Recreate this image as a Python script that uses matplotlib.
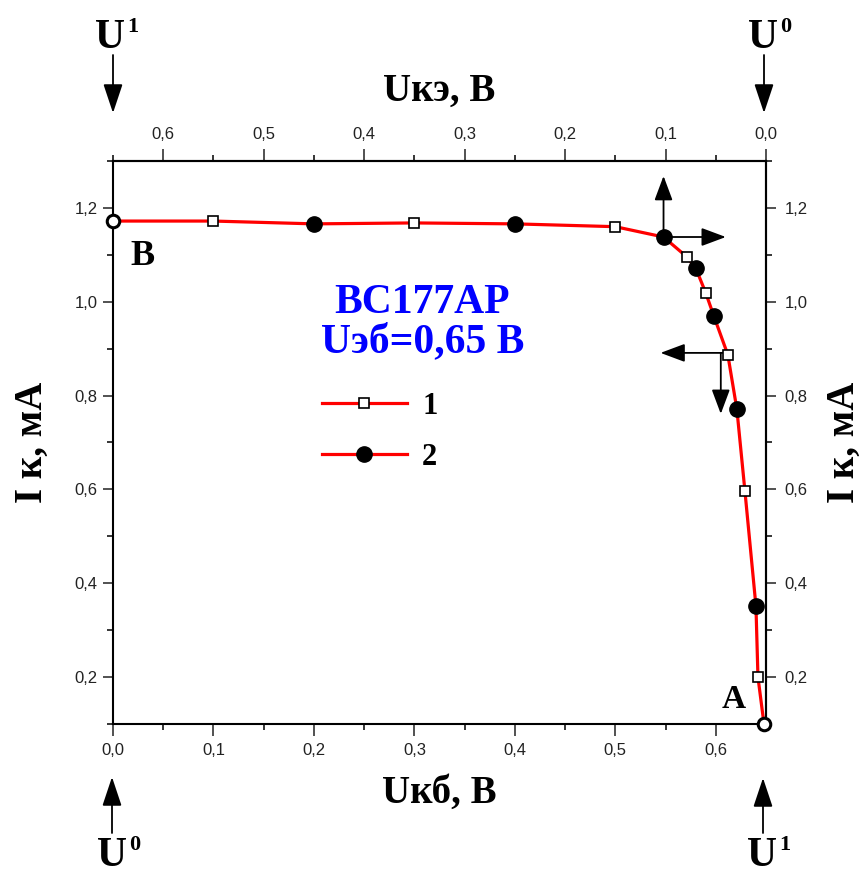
import matplotlib
matplotlib.use("Agg")
import matplotlib.pyplot as plt
from matplotlib.ticker import FixedLocator, MultipleLocator, FuncFormatter
from matplotlib.lines import Line2D

# ---------------- data ----------------
u_eb = 0.65                      # Uэб, B
# end points (open circles) B and A
u_kb_end = [0.0, 0.648]
i_k_end = [1.172, 0.100]
# series 1 (open squares)
u_kb_1 = [0.1, 0.3, 0.5, 0.571, 0.590, 0.612, 0.629, 0.642]
i_k_1 = [1.172, 1.168, 1.160, 1.096, 1.019, 0.887, 0.597, 0.200]
# series 2 (filled circles)
u_kb_2 = [0.2, 0.4, 0.548, 0.580, 0.598, 0.621, 0.640]
i_k_2 = [1.166, 1.166, 1.138, 1.072, 0.970, 0.771, 0.351]

x_ticks = [0.0, 0.1, 0.2, 0.3, 0.4, 0.5, 0.6]
y_ticks = [0.2, 0.4, 0.6, 0.8, 1.0, 1.2]
series_labels = ["1", "2"]

# ---------------- figure ----------------
W, H = 867, 880
plt.rcParams["font.family"] = ["Liberation Sans", "DejaVu Sans"]
SERIF = ["Liberation Serif", "DejaVu Serif"]

fig = plt.figure(figsize=(W / 100, H / 100), dpi=100)
fig.patch.set_facecolor("white")
L, R, T, B = 113, 766, 161, 724
ax = fig.add_axes([L / W, 1 - B / H, (R - L) / W, (B - T) / H])


def px(x, y):
    return (x / W, 1 - y / H)


# one red curve through all measured points (both series share it)
pts = sorted(zip(u_kb_end + u_kb_1 + u_kb_2, i_k_end + i_k_1 + i_k_2))
xc = [p[0] for p in pts]
yc = [p[1] for p in pts]
ax.plot(xc, yc, color="red", lw=2.3, zorder=2, solid_joinstyle="round")
ax.plot(u_kb_1, i_k_1, ls="none", marker="s", ms=7, mfc="white",
        mec="black", mew=1.2, zorder=4)
ax.plot(u_kb_2, i_k_2, ls="none", marker="o", ms=11, mfc="black",
        mec="black", zorder=4)
ax.plot(u_kb_end, i_k_end, ls="none", marker="o", ms=9, mfc="white",
        mec="black", mew=2.2, zorder=5, clip_on=False)

ax.set_xlim(0, u_eb)
ax.set_ylim(0.1, 1.3)

fmt = FuncFormatter(lambda v, p: f"{v:.1f}".replace(".", ","))
ax.xaxis.set_major_locator(FixedLocator(x_ticks))
ax.xaxis.set_minor_locator(MultipleLocator(0.05))
ax.yaxis.set_major_locator(FixedLocator(y_ticks))
ax.yaxis.set_minor_locator(MultipleLocator(0.1))
ax.xaxis.set_major_formatter(fmt)
ax.yaxis.set_major_formatter(fmt)

for s in ax.spines.values():
    s.set_linewidth(1.5)

ax.tick_params(axis="x", which="major", direction="out", length=8.6,
               width=1.1, pad=5, labelsize=12, colors="#222222")
ax.tick_params(axis="x", which="minor", direction="out", length=4.3, width=1.1)
ax.tick_params(axis="y", which="major", direction="out", length=7.2,
               width=1.1, pad=4, labelsize=12, colors="#222222")
ax.tick_params(axis="y", which="minor", direction="out", length=4.3, width=1.1)

# top axis: Uкэ = Uэб - Uкб
f = (lambda x: u_eb - x, lambda x: u_eb - x)
secx = ax.secondary_xaxis("top", functions=f)
secx.xaxis.set_major_locator(FixedLocator(x_ticks))
secx.xaxis.set_minor_locator(MultipleLocator(0.05))
secx.xaxis.set_major_formatter(fmt)
secx.tick_params(axis="x", which="major", direction="out", length=8.6,
                 width=1.1, pad=5, labelsize=12, colors="#222222")
secx.tick_params(axis="x", which="minor", direction="out", length=4.3, width=1.1)
secx.spines["top"].set_linewidth(1.5)

secy = ax.secondary_yaxis("right")
secy.yaxis.set_major_locator(FixedLocator(y_ticks))
secy.yaxis.set_minor_locator(MultipleLocator(0.1))
secy.yaxis.set_major_formatter(fmt)
secy.tick_params(axis="y", which="major", direction="out", length=7.2,
                 width=1.1, pad=6, labelsize=12, colors="#222222")
secy.tick_params(axis="y", which="minor", direction="out", length=4.3, width=1.1)
secy.spines["right"].set_linewidth(1.5)

lab_font = dict(family=SERIF, weight="bold", size=28)
ax.set_xlabel("Uкб, B", labelpad=12, **lab_font)
secx.set_xlabel("Uкэ, B", labelpad=19, **lab_font)
ax.set_ylabel("I к, мА", labelpad=17, **lab_font)
secy.set_ylabel("I к, мА", labelpad=13, rotation=90, **lab_font)

# legend
handles = [
    Line2D([], [], color="red", lw=2.3, marker="s", ms=7, mfc="white",
           mec="black", mew=1.2),
    Line2D([], [], color="red", lw=2.3, marker="o", ms=11, mfc="black",
           mec="black"),
]
ax.legend(handles, series_labels, loc="center left",
          bbox_to_anchor=px(322, 432), bbox_transform=fig.transFigure,
          frameon=False, prop=dict(family=SERIF, weight="bold", size=22),
          handlelength=2.78, handletextpad=0.5, labelspacing=0.73,
          borderpad=0, borderaxespad=0, numpoints=1)

# title text
ax.text(0.308, 0.955, "BC177AP\nUэб=0,65 B", color="#0000ff", ha="center",
        va="center", ma="center", family=SERIF, weight="bold", size=30,
        linespacing=1.05, transform=ax.transData)

# point labels
fig.text(*px(130, 265), "B", family=SERIF, weight="bold", size=26,
         ha="left", va="baseline")
fig.text(*px(722, 708), "A", family=SERIF, weight="bold", size=24,
         ha="left", va="baseline")

# direction arrows inside plot
aprops = dict(arrowstyle="-|>,head_length=0.75,head_width=0.28",
              mutation_scale=20, color="black", lw=1.3,
              shrinkA=0, shrinkB=0)
ax.annotate("", xy=(0.548, 1.268), xytext=(0.548, 1.138), arrowprops=aprops, zorder=3)
ax.annotate("", xy=(0.610, 1.138), xytext=(0.548, 1.138), arrowprops=aprops, zorder=3)
ax.annotate("", xy=(0.545, 0.891), xytext=(0.611, 0.891), arrowprops=aprops, zorder=3)
ax.annotate("", xy=(0.605, 0.761), xytext=(0.605, 0.891), arrowprops=aprops, zorder=3)

# outside U arrows
oprops = dict(arrowstyle="-|>,head_length=0.9,head_width=0.3",
              mutation_scale=20, color="black", lw=1.3,
              shrinkA=0, shrinkB=0)
for (xa, y0, y1_) in [(113, 55, 113), (764, 55, 113), (112, 833, 777), (763, 833, 778)]:
    fig.add_artist(matplotlib.patches.FancyArrowPatch(
        px(xa, y0), px(xa, y1_), transform=fig.transFigure, **oprops))

ufont = dict(family=SERIF, weight="bold")
for (xu, yb, sup) in [(95, 48, "1"), (748, 48, "0"), (97, 866, "0"), (747, 866, "1")]:
    fig.text(*px(xu, yb), "U", size=30, ha="left", va="baseline", **ufont)
    fig.text(*px(xu + 32, yb - 16), sup, size=16, ha="left", va="baseline", **ufont)

fig.savefig("out.png", dpi=100, facecolor="white")
